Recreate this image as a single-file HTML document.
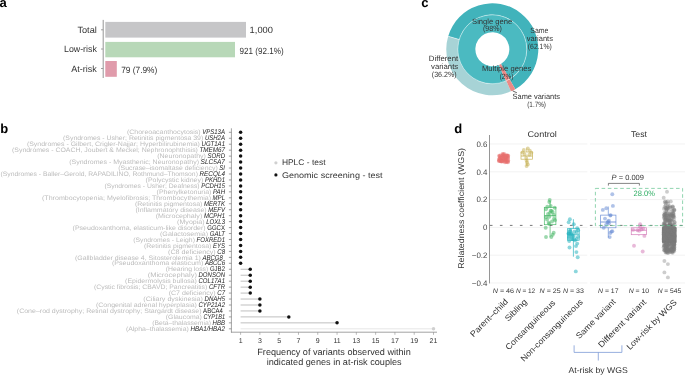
<!DOCTYPE html>
<html><head><meta charset="utf-8"><style>
html,body{margin:0;padding:0;background:#fff;}
body{width:685px;height:375px;overflow:hidden;}
svg{display:block;font-family:"Liberation Sans", sans-serif;will-change:transform;text-rendering:geometricPrecision;}
</style></head><body>
<svg width="685" height="375" viewBox="0 0 685 375">
<text x="-0.50" y="6.80" font-size="13" fill="#000" font-weight="bold">a</text>
<text x="0.30" y="132.60" font-size="13" fill="#000" font-weight="bold">b</text>
<text x="421.20" y="6.60" font-size="13" fill="#000" font-weight="bold">c</text>
<text x="454.20" y="132.70" font-size="13" fill="#000" font-weight="bold">d</text>
<line x1="103.2" y1="19.9" x2="103.2" y2="78" stroke="#8a8a8a" stroke-width="0.9"/>
<rect x="105.3" y="21.9" width="140.70" height="15.70" fill="#c6c6c8"/>
<line x1="101.0" y1="29.80" x2="103.2" y2="29.80" stroke="#8a8a8a" stroke-width="0.8"/>
<text x="96.80" y="32.60" font-size="9.0" fill="#333" text-anchor="end" textLength="19.40" lengthAdjust="spacingAndGlyphs">Total</text>
<text x="249.60" y="33.10" font-size="9.0" fill="#333" textLength="23.40" lengthAdjust="spacingAndGlyphs">1,000</text>
<rect x="105.3" y="41.9" width="129.70" height="15.40" fill="#b8d8b8"/>
<line x1="101.0" y1="49.00" x2="103.2" y2="49.00" stroke="#8a8a8a" stroke-width="0.8"/>
<text x="96.80" y="51.80" font-size="9.0" fill="#333" text-anchor="end" textLength="32.80" lengthAdjust="spacingAndGlyphs">Low-risk</text>
<text x="239.60" y="54.10" font-size="9.0" fill="#333" textLength="44.00" lengthAdjust="spacingAndGlyphs">921 (92.1%)</text>
<rect x="105.3" y="61.0" width="11.50" height="15.80" fill="#e09bab"/>
<line x1="101.0" y1="68.50" x2="103.2" y2="68.50" stroke="#8a8a8a" stroke-width="0.8"/>
<text x="96.80" y="72.00" font-size="9.0" fill="#333" text-anchor="end" textLength="25.50" lengthAdjust="spacingAndGlyphs">At-risk</text>
<text x="121.20" y="73.40" font-size="9.0" fill="#333" textLength="36.10" lengthAdjust="spacingAndGlyphs">79 (7.9%)</text>
<path d="M448.19,36.24 A46.0,46.0 0 1 1 515.30,89.14 L509.55,79.18 A34.5,34.5 0 1 0 459.22,39.50 Z" fill="#41b3bb"/>
<path d="M510.94,91.36 A46.0,46.0 0 0 1 448.19,36.24 L459.22,39.50 A34.5,34.5 0 0 0 506.28,80.84 Z" fill="#a7d3d6"/>
<path d="M515.30,89.14 A46.0,46.0 0 0 1 510.94,91.36 L506.28,80.84 A34.5,34.5 0 0 0 509.55,79.18 Z" fill="#ec8a86"/>
<path d="M505.95,80.99 A34.5,34.5 0 1 1 509.81,79.03 L500.93,63.95 A17.0,17.0 0 1 0 499.02,64.91 Z" fill="#4bbac1"/>
<path d="M509.81,79.03 A34.5,34.5 0 0 1 505.95,80.99 L499.02,64.91 A17.0,17.0 0 0 0 500.93,63.95 Z" fill="#ec8a86"/>
<circle cx="492.3" cy="49.3" r="34.5" fill="none" stroke="#fff" stroke-width="0.45"/>
<line x1="459.22" y1="39.50" x2="448.19" y2="36.24" stroke="#fff" stroke-width="0.5"/>
<text x="492.20" y="23.60" font-size="7.7" fill="#333" text-anchor="middle" textLength="40.30" lengthAdjust="spacingAndGlyphs">Single gene</text>
<text x="492.40" y="30.60" font-size="7.7" fill="#333" text-anchor="middle" textLength="18.80" lengthAdjust="spacingAndGlyphs">(98%)</text>
<text x="539.40" y="32.60" font-size="7.7" fill="#333" text-anchor="middle" textLength="18.10" lengthAdjust="spacingAndGlyphs">Same</text>
<text x="539.80" y="40.80" font-size="7.7" fill="#333" text-anchor="middle" textLength="26.20" lengthAdjust="spacingAndGlyphs">variants</text>
<text x="539.80" y="49.10" font-size="7.7" fill="#333" text-anchor="middle" textLength="24.00" lengthAdjust="spacingAndGlyphs">(62.1%)</text>
<text x="443.50" y="61.40" font-size="7.7" fill="#333" text-anchor="middle" textLength="29.40" lengthAdjust="spacingAndGlyphs">Different</text>
<text x="444.60" y="69.40" font-size="7.7" fill="#333" text-anchor="middle" textLength="27.20" lengthAdjust="spacingAndGlyphs">variants</text>
<text x="444.25" y="77.00" font-size="7.7" fill="#333" text-anchor="middle" textLength="24.90" lengthAdjust="spacingAndGlyphs">(36.2%)</text>
<text x="506.60" y="71.30" font-size="7.7" fill="#333" text-anchor="middle" textLength="49.30" lengthAdjust="spacingAndGlyphs">Multiple genes</text>
<text x="506.50" y="78.50" font-size="7.7" fill="#333" text-anchor="middle" textLength="13.60" lengthAdjust="spacingAndGlyphs">(2%)</text>
<text x="536.30" y="99.30" font-size="7.7" fill="#333" text-anchor="middle" textLength="47.40" lengthAdjust="spacingAndGlyphs">Same variants</text>
<text x="536.60" y="107.00" font-size="7.7" fill="#333" text-anchor="middle" textLength="18.70" lengthAdjust="spacingAndGlyphs">(1.7%)</text>
<line x1="512.7" y1="90.9" x2="516.9" y2="92.8" stroke="#222" stroke-width="0.7"/>
<line x1="231.4" y1="128.3" x2="231.4" y2="332.6" stroke="#8a8a8a" stroke-width="0.8"/>
<line x1="231.0" y1="332.2" x2="437.0" y2="332.2" stroke="#8a8a8a" stroke-width="0.8"/>
<line x1="228.9" y1="132.30" x2="231.4" y2="132.30" stroke="#777" stroke-width="0.7"/>
<text x="225.0" y="134.04" font-size="6.8" text-anchor="end" fill="#222" font-style="italic" textLength="22.80" lengthAdjust="spacingAndGlyphs">VPS13A</text>
<text x="200.60" y="134.04" font-size="6.4" text-anchor="end" fill="#bcbcbc" textLength="73.60" lengthAdjust="spacingAndGlyphs">(Choreoacanthocytosis)</text>
<circle cx="240.60" cy="132.30" r="1.75" fill="#111"/>
<line x1="228.9" y1="138.26" x2="231.4" y2="138.26" stroke="#777" stroke-width="0.7"/>
<text x="225.0" y="140.02" font-size="6.8" text-anchor="end" fill="#222" font-style="italic" textLength="20.11" lengthAdjust="spacingAndGlyphs">USH2A</text>
<text x="203.29" y="140.02" font-size="6.4" text-anchor="end" fill="#bcbcbc" textLength="140.29" lengthAdjust="spacingAndGlyphs">(Syndromes - Usher; Retinitis pigmentosa 39)</text>
<circle cx="240.60" cy="138.26" r="1.75" fill="#111"/>
<line x1="228.9" y1="144.21" x2="231.4" y2="144.21" stroke="#777" stroke-width="0.7"/>
<text x="225.0" y="145.99" font-size="6.8" text-anchor="end" fill="#222" font-style="italic" textLength="23.46" lengthAdjust="spacingAndGlyphs">UGT1A1</text>
<text x="199.94" y="145.99" font-size="6.4" text-anchor="end" fill="#bcbcbc" textLength="173.04" lengthAdjust="spacingAndGlyphs">(Syndromes - Gilbert, Crigler-Najjar; Hyperbilirubinemia)</text>
<circle cx="240.60" cy="144.21" r="1.75" fill="#111"/>
<line x1="228.9" y1="150.17" x2="231.4" y2="150.17" stroke="#777" stroke-width="0.7"/>
<text x="225.0" y="151.97" font-size="6.8" text-anchor="end" fill="#222" font-style="italic" textLength="25.50" lengthAdjust="spacingAndGlyphs">TMEM67</text>
<text x="197.90" y="151.97" font-size="6.4" text-anchor="end" fill="#bcbcbc" textLength="185.90" lengthAdjust="spacingAndGlyphs">(Syndromes - COACH, Joubert &amp; Meckel; Nephronophthisis)</text>
<circle cx="240.60" cy="150.17" r="1.75" fill="#111"/>
<line x1="228.9" y1="156.12" x2="231.4" y2="156.12" stroke="#777" stroke-width="0.7"/>
<text x="225.0" y="157.94" font-size="6.8" text-anchor="end" fill="#222" font-style="italic" textLength="17.43" lengthAdjust="spacingAndGlyphs">SORD</text>
<text x="205.97" y="157.94" font-size="6.4" text-anchor="end" fill="#bcbcbc" textLength="48.77" lengthAdjust="spacingAndGlyphs">(Neuronopathy)</text>
<circle cx="240.60" cy="156.12" r="1.75" fill="#111"/>
<line x1="228.9" y1="162.08" x2="231.4" y2="162.08" stroke="#777" stroke-width="0.7"/>
<text x="225.0" y="163.92" font-size="6.8" text-anchor="end" fill="#222" font-style="italic" textLength="24.40" lengthAdjust="spacingAndGlyphs">SLC5A7</text>
<text x="199.00" y="163.92" font-size="6.4" text-anchor="end" fill="#bcbcbc" textLength="129.80" lengthAdjust="spacingAndGlyphs">(Syndromes - Myasthenic; Neuronopathy)</text>
<circle cx="240.60" cy="162.08" r="1.75" fill="#111"/>
<line x1="228.9" y1="168.03" x2="231.4" y2="168.03" stroke="#777" stroke-width="0.7"/>
<text x="225.0" y="169.89" font-size="6.8" text-anchor="end" fill="#222" font-style="italic" textLength="5.70" lengthAdjust="spacingAndGlyphs">SI</text>
<text x="217.70" y="169.89" font-size="6.4" text-anchor="end" fill="#bcbcbc" textLength="99.40" lengthAdjust="spacingAndGlyphs">(Sucrase–isomaltase deficiency)</text>
<circle cx="240.60" cy="168.03" r="1.75" fill="#111"/>
<line x1="228.9" y1="173.99" x2="231.4" y2="173.99" stroke="#777" stroke-width="0.7"/>
<text x="225.0" y="175.87" font-size="6.8" text-anchor="end" fill="#222" font-style="italic" textLength="25.50" lengthAdjust="spacingAndGlyphs">RECQL4</text>
<text x="197.90" y="175.87" font-size="6.4" text-anchor="end" fill="#bcbcbc" textLength="197.40" lengthAdjust="spacingAndGlyphs">(Syndromes - Baller–Gerold, RAPADILINO, Rothmund–Thomson)</text>
<circle cx="240.60" cy="173.99" r="1.75" fill="#111"/>
<line x1="228.9" y1="179.94" x2="231.4" y2="179.94" stroke="#777" stroke-width="0.7"/>
<text x="225.0" y="181.84" font-size="6.8" text-anchor="end" fill="#222" font-style="italic" textLength="20.11" lengthAdjust="spacingAndGlyphs">PKHD1</text>
<text x="203.29" y="181.84" font-size="6.4" text-anchor="end" fill="#bcbcbc" textLength="57.69" lengthAdjust="spacingAndGlyphs">(Polycystic kidney)</text>
<circle cx="240.60" cy="179.94" r="1.75" fill="#111"/>
<line x1="228.9" y1="185.90" x2="231.4" y2="185.90" stroke="#777" stroke-width="0.7"/>
<text x="225.0" y="187.82" font-size="6.8" text-anchor="end" fill="#222" font-style="italic" textLength="23.80" lengthAdjust="spacingAndGlyphs">PCDH15</text>
<text x="199.60" y="187.82" font-size="6.4" text-anchor="end" fill="#bcbcbc" textLength="95.20" lengthAdjust="spacingAndGlyphs">(Syndromes - Usher; Deafness)</text>
<circle cx="240.60" cy="185.90" r="1.75" fill="#111"/>
<line x1="228.9" y1="191.85" x2="231.4" y2="191.85" stroke="#777" stroke-width="0.7"/>
<text x="225.0" y="193.79" font-size="6.8" text-anchor="end" fill="#222" font-style="italic" textLength="11.96" lengthAdjust="spacingAndGlyphs">PAH</text>
<text x="211.44" y="193.79" font-size="6.4" text-anchor="end" fill="#bcbcbc" textLength="54.84" lengthAdjust="spacingAndGlyphs">(Phenylketonuria)</text>
<circle cx="240.60" cy="191.85" r="1.75" fill="#111"/>
<line x1="228.9" y1="197.81" x2="231.4" y2="197.81" stroke="#777" stroke-width="0.7"/>
<text x="225.0" y="199.77" font-size="6.8" text-anchor="end" fill="#222" font-style="italic" textLength="12.40" lengthAdjust="spacingAndGlyphs">MPL</text>
<text x="211.00" y="199.77" font-size="6.4" text-anchor="end" fill="#bcbcbc" textLength="169.00" lengthAdjust="spacingAndGlyphs">(Thrombocytopenia; Myelofibrosis; Thrombocythemia)</text>
<circle cx="240.60" cy="197.81" r="1.75" fill="#111"/>
<line x1="228.9" y1="203.76" x2="231.4" y2="203.76" stroke="#777" stroke-width="0.7"/>
<text x="225.0" y="205.74" font-size="6.8" text-anchor="end" fill="#222" font-style="italic" textLength="21.00" lengthAdjust="spacingAndGlyphs">MERTK</text>
<text x="202.40" y="205.74" font-size="6.4" text-anchor="end" fill="#bcbcbc" textLength="67.40" lengthAdjust="spacingAndGlyphs">(Retinitis pigmentosa)</text>
<circle cx="240.60" cy="203.76" r="1.75" fill="#111"/>
<line x1="228.9" y1="209.72" x2="231.4" y2="209.72" stroke="#777" stroke-width="0.7"/>
<text x="225.0" y="211.72" font-size="6.8" text-anchor="end" fill="#222" font-style="italic" textLength="16.76" lengthAdjust="spacingAndGlyphs">MEFV</text>
<text x="206.64" y="211.72" font-size="6.4" text-anchor="end" fill="#bcbcbc" textLength="71.24" lengthAdjust="spacingAndGlyphs">(Inflammatory disease)</text>
<circle cx="240.60" cy="209.72" r="1.75" fill="#111"/>
<line x1="228.9" y1="215.67" x2="231.4" y2="215.67" stroke="#777" stroke-width="0.7"/>
<text x="225.0" y="217.69" font-size="6.8" text-anchor="end" fill="#222" font-style="italic" textLength="21.11" lengthAdjust="spacingAndGlyphs">MCPH1</text>
<text x="202.29" y="217.69" font-size="6.4" text-anchor="end" fill="#bcbcbc" textLength="46.59" lengthAdjust="spacingAndGlyphs">(Microcephaly)</text>
<circle cx="240.60" cy="215.67" r="1.75" fill="#111"/>
<line x1="228.9" y1="221.62" x2="231.4" y2="221.62" stroke="#777" stroke-width="0.7"/>
<text x="225.0" y="223.66" font-size="6.8" text-anchor="end" fill="#222" font-style="italic" textLength="18.78" lengthAdjust="spacingAndGlyphs">LOXL3</text>
<text x="204.62" y="223.66" font-size="6.4" text-anchor="end" fill="#bcbcbc" textLength="27.52" lengthAdjust="spacingAndGlyphs">(Myopia)</text>
<circle cx="240.60" cy="221.62" r="1.75" fill="#111"/>
<line x1="228.9" y1="227.58" x2="231.4" y2="227.58" stroke="#777" stroke-width="0.7"/>
<text x="225.0" y="229.64" font-size="6.8" text-anchor="end" fill="#222" textLength="17.76" lengthAdjust="spacingAndGlyphs">GGCX</text>
<text x="205.64" y="229.64" font-size="6.4" text-anchor="end" fill="#bcbcbc" textLength="133.04" lengthAdjust="spacingAndGlyphs">(Pseudoxanthoma, elasticum-like disorder)</text>
<circle cx="240.60" cy="227.58" r="1.75" fill="#111"/>
<line x1="228.9" y1="233.54" x2="231.4" y2="233.54" stroke="#777" stroke-width="0.7"/>
<text x="225.0" y="235.62" font-size="6.8" text-anchor="end" fill="#222" font-style="italic" textLength="15.31" lengthAdjust="spacingAndGlyphs">GALT</text>
<text x="208.09" y="235.62" font-size="6.4" text-anchor="end" fill="#bcbcbc" textLength="48.09" lengthAdjust="spacingAndGlyphs">(Galactosemia)</text>
<circle cx="240.60" cy="233.54" r="1.75" fill="#111"/>
<line x1="228.9" y1="239.49" x2="231.4" y2="239.49" stroke="#777" stroke-width="0.7"/>
<text x="225.0" y="241.59" font-size="6.8" text-anchor="end" fill="#222" font-style="italic" textLength="28.49" lengthAdjust="spacingAndGlyphs">FOXRED1</text>
<text x="194.91" y="241.59" font-size="6.4" text-anchor="end" fill="#bcbcbc" textLength="61.61" lengthAdjust="spacingAndGlyphs">(Syndromes - Leigh)</text>
<circle cx="240.60" cy="239.49" r="1.75" fill="#111"/>
<line x1="228.9" y1="245.44" x2="231.4" y2="245.44" stroke="#777" stroke-width="0.7"/>
<text x="225.0" y="247.56" font-size="6.8" text-anchor="end" fill="#222" font-style="italic" textLength="12.07" lengthAdjust="spacingAndGlyphs">EYS</text>
<text x="211.33" y="247.56" font-size="6.4" text-anchor="end" fill="#bcbcbc" textLength="67.33" lengthAdjust="spacingAndGlyphs">(Retinitis pigmentosa)</text>
<circle cx="240.60" cy="245.44" r="1.75" fill="#111"/>
<line x1="228.9" y1="251.40" x2="231.4" y2="251.40" stroke="#777" stroke-width="0.7"/>
<text x="225.0" y="253.54" font-size="6.8" text-anchor="end" fill="#222" font-style="italic" textLength="7.71" lengthAdjust="spacingAndGlyphs">C8</text>
<text x="215.69" y="253.54" font-size="6.4" text-anchor="end" fill="#bcbcbc" textLength="47.69" lengthAdjust="spacingAndGlyphs">(C8 deficiency)</text>
<circle cx="240.60" cy="251.40" r="1.75" fill="#111"/>
<line x1="228.9" y1="257.36" x2="231.4" y2="257.36" stroke="#777" stroke-width="0.7"/>
<text x="222.9" y="259.51" font-size="6.8" text-anchor="end" fill="#222" font-style="italic" textLength="20.45" lengthAdjust="spacingAndGlyphs">ABCG8</text>
<text x="200.85" y="259.51" font-size="6.4" text-anchor="end" fill="#bcbcbc" textLength="125.95" lengthAdjust="spacingAndGlyphs">(Gallbladder disease 4, Sitosterolemia 1)</text>
<circle cx="240.60" cy="257.36" r="1.75" fill="#111"/>
<line x1="228.9" y1="263.31" x2="231.4" y2="263.31" stroke="#777" stroke-width="0.7"/>
<text x="225.0" y="265.49" font-size="6.8" text-anchor="end" fill="#222" font-style="italic" textLength="20.11" lengthAdjust="spacingAndGlyphs">ABCC6</text>
<text x="203.29" y="265.49" font-size="6.4" text-anchor="end" fill="#bcbcbc" textLength="91.29" lengthAdjust="spacingAndGlyphs">(Pseudoxanthoma elasticum)</text>
<circle cx="240.60" cy="263.31" r="1.75" fill="#111"/>
<line x1="228.9" y1="269.26" x2="231.4" y2="269.26" stroke="#777" stroke-width="0.7"/>
<text x="225.0" y="271.46" font-size="6.8" text-anchor="end" fill="#222" textLength="15.09" lengthAdjust="spacingAndGlyphs">GJB2</text>
<text x="208.31" y="271.46" font-size="6.4" text-anchor="end" fill="#bcbcbc" textLength="42.61" lengthAdjust="spacingAndGlyphs">(Hearing loss)</text>
<line x1="240.6" y1="269.26" x2="250.25" y2="269.26" stroke="#bfbfbf" stroke-width="1.0"/>
<circle cx="250.25" cy="269.26" r="1.75" fill="#111"/>
<line x1="228.9" y1="275.22" x2="231.4" y2="275.22" stroke="#777" stroke-width="0.7"/>
<text x="225.0" y="277.44" font-size="6.8" text-anchor="end" fill="#222" font-style="italic" textLength="26.48" lengthAdjust="spacingAndGlyphs">DONSON</text>
<text x="196.92" y="277.44" font-size="6.4" text-anchor="end" fill="#bcbcbc" textLength="49.22" lengthAdjust="spacingAndGlyphs">(Microcephaly)</text>
<line x1="240.6" y1="275.22" x2="250.25" y2="275.22" stroke="#bfbfbf" stroke-width="1.0"/>
<circle cx="250.25" cy="275.22" r="1.75" fill="#111"/>
<line x1="228.9" y1="281.18" x2="231.4" y2="281.18" stroke="#777" stroke-width="0.7"/>
<text x="225.0" y="283.41" font-size="6.8" text-anchor="end" fill="#222" font-style="italic" textLength="26.49" lengthAdjust="spacingAndGlyphs">COL17A1</text>
<text x="196.91" y="283.41" font-size="6.4" text-anchor="end" fill="#bcbcbc" textLength="71.81" lengthAdjust="spacingAndGlyphs">(Epidermolysis bullosa)</text>
<line x1="240.6" y1="281.18" x2="250.25" y2="281.18" stroke="#bfbfbf" stroke-width="1.0"/>
<circle cx="250.25" cy="281.18" r="1.75" fill="#111"/>
<line x1="228.9" y1="287.13" x2="231.4" y2="287.13" stroke="#777" stroke-width="0.7"/>
<text x="225.0" y="289.39" font-size="6.8" text-anchor="end" fill="#222" font-style="italic" textLength="16.08" lengthAdjust="spacingAndGlyphs">CFTR</text>
<text x="207.32" y="289.39" font-size="6.4" text-anchor="end" fill="#bcbcbc" textLength="113.32" lengthAdjust="spacingAndGlyphs">(Cystic fibrosis; CBAVD; Pancreatitis)</text>
<line x1="240.6" y1="287.13" x2="250.25" y2="287.13" stroke="#bfbfbf" stroke-width="1.0"/>
<circle cx="250.25" cy="287.13" r="1.75" fill="#111"/>
<line x1="228.9" y1="293.09" x2="231.4" y2="293.09" stroke="#777" stroke-width="0.7"/>
<text x="225.0" y="295.37" font-size="6.8" text-anchor="end" fill="#222" font-style="italic" textLength="7.71" lengthAdjust="spacingAndGlyphs">C7</text>
<text x="215.69" y="295.37" font-size="6.4" text-anchor="end" fill="#bcbcbc" textLength="46.99" lengthAdjust="spacingAndGlyphs">(C7 deficiency)</text>
<line x1="240.6" y1="293.09" x2="250.25" y2="293.09" stroke="#bfbfbf" stroke-width="1.0"/>
<circle cx="250.25" cy="293.09" r="1.75" fill="#111"/>
<line x1="228.9" y1="299.04" x2="231.4" y2="299.04" stroke="#777" stroke-width="0.7"/>
<text x="225.0" y="301.34" font-size="6.8" text-anchor="end" fill="#222" font-style="italic" textLength="20.45" lengthAdjust="spacingAndGlyphs">DNAH5</text>
<text x="202.95" y="301.34" font-size="6.4" text-anchor="end" fill="#bcbcbc" textLength="59.65" lengthAdjust="spacingAndGlyphs">(Ciliary dyskinesia)</text>
<line x1="240.6" y1="299.04" x2="259.89" y2="299.04" stroke="#bfbfbf" stroke-width="1.0"/>
<circle cx="259.89" cy="299.04" r="1.75" fill="#111"/>
<line x1="228.9" y1="305.00" x2="231.4" y2="305.00" stroke="#777" stroke-width="0.7"/>
<text x="225.0" y="307.31" font-size="6.8" text-anchor="end" fill="#222" font-style="italic" textLength="26.49" lengthAdjust="spacingAndGlyphs">CYP21A2</text>
<text x="196.91" y="307.31" font-size="6.4" text-anchor="end" fill="#bcbcbc" textLength="100.91" lengthAdjust="spacingAndGlyphs">(Congenital adrenal hyperplasia)</text>
<line x1="240.6" y1="305.00" x2="259.89" y2="305.00" stroke="#bfbfbf" stroke-width="1.0"/>
<circle cx="259.89" cy="305.00" r="1.75" fill="#111"/>
<line x1="228.9" y1="310.95" x2="231.4" y2="310.95" stroke="#777" stroke-width="0.7"/>
<text x="222.9" y="313.29" font-size="6.8" text-anchor="end" fill="#222" textLength="19.78" lengthAdjust="spacingAndGlyphs">ABCA4</text>
<text x="201.52" y="313.29" font-size="6.4" text-anchor="end" fill="#bcbcbc" textLength="184.72" lengthAdjust="spacingAndGlyphs">(Cone–rod dystrophy; Retinal dystrophy; Stargardt disease)</text>
<line x1="240.6" y1="310.95" x2="259.89" y2="310.95" stroke="#bfbfbf" stroke-width="1.0"/>
<circle cx="259.89" cy="310.95" r="1.75" fill="#111"/>
<line x1="228.9" y1="316.90" x2="231.4" y2="316.90" stroke="#777" stroke-width="0.7"/>
<text x="225.0" y="319.26" font-size="6.8" text-anchor="end" fill="#222" font-style="italic" textLength="21.50" lengthAdjust="spacingAndGlyphs">CYP1B1</text>
<text x="201.90" y="319.26" font-size="6.4" text-anchor="end" fill="#bcbcbc" textLength="36.10" lengthAdjust="spacingAndGlyphs">(Glaucoma)</text>
<line x1="240.6" y1="316.90" x2="288.82" y2="316.90" stroke="#bfbfbf" stroke-width="1.0"/>
<circle cx="288.82" cy="316.90" r="1.75" fill="#111"/>
<line x1="228.9" y1="322.86" x2="231.4" y2="322.86" stroke="#777" stroke-width="0.7"/>
<text x="225.0" y="325.24" font-size="6.8" text-anchor="end" fill="#222" font-style="italic" textLength="12.40" lengthAdjust="spacingAndGlyphs">HBB</text>
<text x="211.00" y="325.24" font-size="6.4" text-anchor="end" fill="#bcbcbc" textLength="58.70" lengthAdjust="spacingAndGlyphs">(Beta–thalassemia)</text>
<line x1="240.6" y1="322.86" x2="337.05" y2="322.86" stroke="#bfbfbf" stroke-width="1.0"/>
<circle cx="337.05" cy="322.86" r="1.75" fill="#111"/>
<line x1="228.9" y1="328.82" x2="231.4" y2="328.82" stroke="#777" stroke-width="0.7"/>
<text x="225.0" y="331.22" font-size="6.8" text-anchor="end" fill="#222" font-style="italic" textLength="34.60" lengthAdjust="spacingAndGlyphs">HBA1/HBA2</text>
<text x="188.80" y="331.22" font-size="6.4" text-anchor="end" fill="#bcbcbc" textLength="62.90" lengthAdjust="spacingAndGlyphs">(Alpha–thalassemia)</text>
<line x1="240.6" y1="328.82" x2="433.50" y2="328.82" stroke="#e6e6e6" stroke-width="1.0"/>
<circle cx="433.50" cy="328.82" r="1.75" fill="#d0d0d0"/>
<line x1="240.60" y1="332.2" x2="240.60" y2="334.8" stroke="#8a8a8a" stroke-width="0.6"/>
<text x="240.60" y="342.60" font-size="7.0" fill="#333" text-anchor="middle">1</text>
<line x1="259.89" y1="332.2" x2="259.89" y2="334.8" stroke="#8a8a8a" stroke-width="0.6"/>
<text x="259.89" y="342.60" font-size="7.0" fill="#333" text-anchor="middle">3</text>
<line x1="279.18" y1="332.2" x2="279.18" y2="334.8" stroke="#8a8a8a" stroke-width="0.6"/>
<text x="279.18" y="342.60" font-size="7.0" fill="#333" text-anchor="middle">5</text>
<line x1="298.47" y1="332.2" x2="298.47" y2="334.8" stroke="#8a8a8a" stroke-width="0.6"/>
<text x="298.47" y="342.60" font-size="7.0" fill="#333" text-anchor="middle">7</text>
<line x1="317.76" y1="332.2" x2="317.76" y2="334.8" stroke="#8a8a8a" stroke-width="0.6"/>
<text x="317.76" y="342.60" font-size="7.0" fill="#333" text-anchor="middle">9</text>
<line x1="337.05" y1="332.2" x2="337.05" y2="334.8" stroke="#8a8a8a" stroke-width="0.6"/>
<text x="337.05" y="342.60" font-size="7.0" fill="#333" text-anchor="middle">11</text>
<line x1="356.34" y1="332.2" x2="356.34" y2="334.8" stroke="#8a8a8a" stroke-width="0.6"/>
<text x="356.34" y="342.60" font-size="7.0" fill="#333" text-anchor="middle">13</text>
<line x1="375.63" y1="332.2" x2="375.63" y2="334.8" stroke="#8a8a8a" stroke-width="0.6"/>
<text x="375.63" y="342.60" font-size="7.0" fill="#333" text-anchor="middle">15</text>
<line x1="394.92" y1="332.2" x2="394.92" y2="334.8" stroke="#8a8a8a" stroke-width="0.6"/>
<text x="394.92" y="342.60" font-size="7.0" fill="#333" text-anchor="middle">17</text>
<line x1="414.21" y1="332.2" x2="414.21" y2="334.8" stroke="#8a8a8a" stroke-width="0.6"/>
<text x="414.21" y="342.60" font-size="7.0" fill="#333" text-anchor="middle">19</text>
<line x1="433.50" y1="332.2" x2="433.50" y2="334.8" stroke="#8a8a8a" stroke-width="0.6"/>
<text x="433.50" y="342.60" font-size="7.0" fill="#333" text-anchor="middle">21</text>
<text x="334.00" y="354.70" font-size="9.1" fill="#333" text-anchor="middle" textLength="153.40" lengthAdjust="spacingAndGlyphs">Frequency of variants observed within</text>
<text x="334.20" y="365.10" font-size="9.1" fill="#333" text-anchor="middle" textLength="135.00" lengthAdjust="spacingAndGlyphs">indicated genes in at-risk couples</text>
<circle cx="275.9" cy="162.8" r="1.6" fill="#d0d0d0"/>
<circle cx="275.9" cy="174.9" r="1.6" fill="#111"/>
<text x="281.90" y="165.30" font-size="8.2" fill="#333" textLength="43.60" lengthAdjust="spacingAndGlyphs">HPLC - test</text>
<text x="281.90" y="177.70" font-size="8.2" fill="#333" textLength="100.70" lengthAdjust="spacingAndGlyphs">Genomic screening - test</text>
<line x1="489.5" y1="144.00" x2="587.3" y2="144.00" stroke="#ececec" stroke-width="0.7"/>
<line x1="590.0" y1="144.00" x2="688" y2="144.00" stroke="#ececec" stroke-width="0.7"/>
<text x="487.40" y="146.75" font-size="7.9" fill="#444" text-anchor="end">0.6</text>
<line x1="489.5" y1="171.80" x2="587.3" y2="171.80" stroke="#ececec" stroke-width="0.7"/>
<line x1="590.0" y1="171.80" x2="688" y2="171.80" stroke="#ececec" stroke-width="0.7"/>
<text x="487.40" y="174.55" font-size="7.9" fill="#444" text-anchor="end">0.4</text>
<line x1="489.5" y1="199.60" x2="587.3" y2="199.60" stroke="#ececec" stroke-width="0.7"/>
<line x1="590.0" y1="199.60" x2="688" y2="199.60" stroke="#ececec" stroke-width="0.7"/>
<text x="487.40" y="202.35" font-size="7.9" fill="#444" text-anchor="end">0.2</text>
<line x1="489.5" y1="227.40" x2="587.3" y2="227.40" stroke="#ececec" stroke-width="0.7"/>
<line x1="590.0" y1="227.40" x2="688" y2="227.40" stroke="#ececec" stroke-width="0.7"/>
<text x="487.40" y="230.15" font-size="7.9" fill="#444" text-anchor="end">0</text>
<line x1="489.5" y1="255.20" x2="587.3" y2="255.20" stroke="#ececec" stroke-width="0.7"/>
<line x1="590.0" y1="255.20" x2="688" y2="255.20" stroke="#ececec" stroke-width="0.7"/>
<text x="487.40" y="257.95" font-size="7.9" fill="#444" text-anchor="end">−0.2</text>
<line x1="489.5" y1="283.00" x2="587.3" y2="283.00" stroke="#ececec" stroke-width="0.7"/>
<line x1="590.0" y1="283.00" x2="688" y2="283.00" stroke="#ececec" stroke-width="0.7"/>
<text x="487.40" y="285.75" font-size="7.9" fill="#444" text-anchor="end">−0.4</text>
<line x1="489.5" y1="135" x2="489.5" y2="283.4" stroke="#8a8a8a" stroke-width="0.9"/>
<text x="464.50" y="208.40" font-size="8.4" fill="#333" text-anchor="middle" textLength="120.80" lengthAdjust="spacingAndGlyphs" transform="rotate(-90 464.5 208.4)">Relatedness coefficient (WGS)</text>
<text x="542.20" y="137.10" font-size="8.4" fill="#333" text-anchor="middle" textLength="29.30" lengthAdjust="spacingAndGlyphs">Control</text>
<text x="639.00" y="137.00" font-size="8.4" fill="#333" text-anchor="middle" textLength="16.00" lengthAdjust="spacingAndGlyphs">Test</text>
<g fill="#e8706e" fill-opacity="0.55">
<circle cx="499.2" cy="155.6" r="1.95"/>
<circle cx="499.6" cy="156.8" r="1.95"/>
<circle cx="499.4" cy="158.4" r="1.95"/>
<circle cx="499.0" cy="159.8" r="1.95"/>
<circle cx="498.9" cy="161.0" r="1.95"/>
<circle cx="500.4" cy="155.5" r="1.95"/>
<circle cx="500.7" cy="157.5" r="1.95"/>
<circle cx="500.4" cy="158.2" r="1.95"/>
<circle cx="500.9" cy="160.2" r="1.95"/>
<circle cx="500.9" cy="161.0" r="1.95"/>
<circle cx="502.7" cy="155.4" r="1.95"/>
<circle cx="502.6" cy="157.0" r="1.95"/>
<circle cx="501.8" cy="158.1" r="1.95"/>
<circle cx="502.0" cy="160.1" r="1.95"/>
<circle cx="501.9" cy="161.2" r="1.95"/>
<circle cx="503.7" cy="155.8" r="1.95"/>
<circle cx="503.6" cy="156.8" r="1.95"/>
<circle cx="503.2" cy="158.2" r="1.95"/>
<circle cx="503.8" cy="159.7" r="1.95"/>
<circle cx="503.4" cy="161.2" r="1.95"/>
<circle cx="505.0" cy="155.7" r="1.95"/>
<circle cx="505.3" cy="157.4" r="1.95"/>
<circle cx="504.7" cy="158.6" r="1.95"/>
<circle cx="505.0" cy="160.2" r="1.95"/>
<circle cx="505.2" cy="160.9" r="1.95"/>
<circle cx="506.9" cy="155.5" r="1.95"/>
<circle cx="506.3" cy="157.5" r="1.95"/>
<circle cx="506.1" cy="158.5" r="1.95"/>
<circle cx="505.9" cy="160.0" r="1.95"/>
<circle cx="506.7" cy="161.2" r="1.95"/>
<circle cx="508.2" cy="155.7" r="1.95"/>
<circle cx="508.0" cy="157.3" r="1.95"/>
<circle cx="507.9" cy="158.5" r="1.95"/>
<circle cx="508.1" cy="160.2" r="1.95"/>
<circle cx="507.8" cy="161.3" r="1.95"/>
<circle cx="502.6" cy="154.0" r="1.95"/>
<circle cx="504.2" cy="153.9" r="1.95"/>
<circle cx="503.3" cy="154.6" r="1.95"/>
<circle cx="507.9" cy="162.2" r="1.95"/>
<circle cx="506.5" cy="162.0" r="1.95"/>
<circle cx="505.0" cy="162.2" r="1.95"/>
<circle cx="499.4" cy="160.6" r="1.95"/>
<circle cx="500.5" cy="161.3" r="1.95"/>
<circle cx="501.8" cy="161.6" r="1.95"/>
<circle cx="507.5" cy="155.8" r="1.95"/>
<circle cx="506.4" cy="155.4" r="1.95"/>
</g>
<line x1="526.8" y1="148.4" x2="526.8" y2="152.0" stroke="#c8b55c" stroke-width="0.7"/>
<line x1="526.8" y1="159.2" x2="526.8" y2="166.0" stroke="#c8b55c" stroke-width="0.7"/>
<rect x="521.00" y="152.0" width="11.60" height="7.20" fill="#fff" fill-opacity="0.6" stroke="#c8b55c" stroke-width="0.7"/>
<line x1="521.00" y1="156.0" x2="532.60" y2="156.0" stroke="#c8b55c" stroke-width="0.9"/>
<g fill="#c8b55c" fill-opacity="0.55">
<circle cx="527.8" cy="148.4" r="1.95"/>
<circle cx="523.8" cy="150.0" r="1.95"/>
<circle cx="529.8" cy="150.8" r="1.95"/>
<circle cx="522.6" cy="152.4" r="1.95"/>
<circle cx="531.4" cy="152.8" r="1.95"/>
<circle cx="524.6" cy="154.4" r="1.95"/>
<circle cx="529.4" cy="154.8" r="1.95"/>
<circle cx="526.2" cy="158.0" r="1.95"/>
<circle cx="526.6" cy="160.4" r="1.95"/>
<circle cx="527.0" cy="162.4" r="1.95"/>
<circle cx="526.6" cy="166.0" r="1.95"/>
<circle cx="527.8" cy="164.4" r="1.95"/>
</g>
<line x1="550.1" y1="200.7" x2="550.1" y2="207.3" stroke="#4bb86a" stroke-width="0.7"/>
<line x1="550.1" y1="224.7" x2="550.1" y2="237.3" stroke="#4bb86a" stroke-width="0.7"/>
<rect x="544.30" y="207.3" width="11.60" height="17.40" fill="#fff" fill-opacity="0.6" stroke="#4bb86a" stroke-width="0.7"/>
<line x1="544.30" y1="215.7" x2="555.90" y2="215.7" stroke="#4bb86a" stroke-width="0.9"/>
<g fill="#4bb86a" fill-opacity="0.55">
<circle cx="549.7" cy="200.0" r="1.95"/>
<circle cx="549.3" cy="202.0" r="1.95"/>
<circle cx="547.3" cy="206.7" r="1.95"/>
<circle cx="550.7" cy="206.0" r="1.95"/>
<circle cx="554.7" cy="207.7" r="1.95"/>
<circle cx="546.0" cy="209.3" r="1.95"/>
<circle cx="550.7" cy="210.7" r="1.95"/>
<circle cx="552.7" cy="212.0" r="1.95"/>
<circle cx="548.0" cy="214.0" r="1.95"/>
<circle cx="553.7" cy="214.7" r="1.95"/>
<circle cx="549.3" cy="216.7" r="1.95"/>
<circle cx="546.0" cy="217.3" r="1.95"/>
<circle cx="554.0" cy="218.7" r="1.95"/>
<circle cx="555.0" cy="220.3" r="1.95"/>
<circle cx="548.7" cy="222.7" r="1.95"/>
<circle cx="549.3" cy="224.0" r="1.95"/>
<circle cx="545.7" cy="227.7" r="1.95"/>
<circle cx="553.7" cy="232.7" r="1.95"/>
<circle cx="552.7" cy="234.7" r="1.95"/>
<circle cx="546.0" cy="237.0" r="1.95"/>
<circle cx="551.3" cy="237.0" r="1.95"/>
<circle cx="551.5" cy="211.0" r="1.95"/>
<circle cx="547.0" cy="219.5" r="1.95"/>
<circle cx="552.0" cy="221.5" r="1.95"/>
<circle cx="550.0" cy="213.0" r="1.95"/>
</g>
<line x1="573.4" y1="219.2" x2="573.4" y2="228.7" stroke="#2bb5c0" stroke-width="0.7"/>
<line x1="573.4" y1="240.2" x2="573.4" y2="256.7" stroke="#2bb5c0" stroke-width="0.7"/>
<rect x="567.60" y="228.7" width="11.60" height="11.50" fill="#fff" fill-opacity="0.6" stroke="#2bb5c0" stroke-width="0.7"/>
<line x1="567.60" y1="234.2" x2="579.20" y2="234.2" stroke="#2bb5c0" stroke-width="0.9"/>
<g fill="#2bb5c0" fill-opacity="0.55">
<circle cx="569.9" cy="219.2" r="1.95"/>
<circle cx="568.7" cy="222.2" r="1.95"/>
<circle cx="573.8" cy="224.3" r="1.95"/>
<circle cx="577.2" cy="228.2" r="1.95"/>
<circle cx="569.5" cy="247.5" r="1.95"/>
<circle cx="577.2" cy="243.6" r="1.95"/>
<circle cx="576.0" cy="246.1" r="1.95"/>
<circle cx="576.4" cy="252.1" r="1.95"/>
<circle cx="577.7" cy="257.2" r="1.95"/>
<circle cx="575.8" cy="271.4" r="1.95"/>
<circle cx="569.2" cy="241.0" r="1.95"/>
<circle cx="569.1" cy="236.9" r="1.95"/>
<circle cx="575.0" cy="240.4" r="1.95"/>
<circle cx="576.7" cy="231.9" r="1.95"/>
<circle cx="572.4" cy="236.5" r="1.95"/>
<circle cx="568.7" cy="234.0" r="1.95"/>
<circle cx="570.2" cy="229.9" r="1.95"/>
<circle cx="569.1" cy="237.7" r="1.95"/>
<circle cx="569.8" cy="231.5" r="1.95"/>
<circle cx="572.4" cy="239.0" r="1.95"/>
<circle cx="569.3" cy="233.9" r="1.95"/>
<circle cx="574.0" cy="239.1" r="1.95"/>
<circle cx="576.7" cy="238.9" r="1.95"/>
<circle cx="571.3" cy="233.5" r="1.95"/>
<circle cx="572.1" cy="239.1" r="1.95"/>
<circle cx="578.1" cy="230.3" r="1.95"/>
<circle cx="570.3" cy="231.3" r="1.95"/>
<circle cx="570.8" cy="234.3" r="1.95"/>
<circle cx="574.4" cy="231.7" r="1.95"/>
<circle cx="568.5" cy="233.5" r="1.95"/>
<circle cx="572.2" cy="235.3" r="1.95"/>
<circle cx="578.0" cy="236.8" r="1.95"/>
<circle cx="573.7" cy="235.9" r="1.95"/>
</g>
<line x1="608.3" y1="206.5" x2="608.3" y2="215.1" stroke="#6d8fd6" stroke-width="0.7"/>
<line x1="608.3" y1="227.8" x2="608.3" y2="237.7" stroke="#6d8fd6" stroke-width="0.7"/>
<rect x="600.65" y="215.1" width="15.30" height="12.70" fill="#fff" fill-opacity="0.6" stroke="#6d8fd6" stroke-width="0.7"/>
<line x1="600.65" y1="222.0" x2="615.95" y2="222.0" stroke="#6d8fd6" stroke-width="0.9"/>
<g fill="#6d8fd6" fill-opacity="0.55">
<circle cx="612.3" cy="194.3" r="1.95"/>
<circle cx="602.8" cy="209.9" r="1.95"/>
<circle cx="606.3" cy="208.2" r="1.95"/>
<circle cx="612.9" cy="205.9" r="1.95"/>
<circle cx="610.3" cy="215.6" r="1.95"/>
<circle cx="605.0" cy="218.6" r="1.95"/>
<circle cx="608.9" cy="220.8" r="1.95"/>
<circle cx="607.5" cy="222.6" r="1.95"/>
<circle cx="608.9" cy="223.3" r="1.95"/>
<circle cx="603.7" cy="227.8" r="1.95"/>
<circle cx="611.5" cy="231.6" r="1.95"/>
<circle cx="610.3" cy="233.0" r="1.95"/>
<circle cx="609.7" cy="237.1" r="1.95"/>
<circle cx="612.3" cy="231.2" r="1.95"/>
<circle cx="608.0" cy="221.5" r="1.95"/>
<circle cx="610.6" cy="215.1" r="1.95"/>
<circle cx="606.0" cy="225.0" r="1.95"/>
</g>
<line x1="638.9" y1="224.3" x2="638.9" y2="227.8" stroke="#d57fba" stroke-width="0.7"/>
<line x1="638.9" y1="234.7" x2="638.9" y2="235.9" stroke="#d57fba" stroke-width="0.7"/>
<rect x="631.25" y="227.8" width="15.30" height="6.90" fill="#fff" fill-opacity="0.6" stroke="#d57fba" stroke-width="0.7"/>
<line x1="631.25" y1="230.2" x2="646.55" y2="230.2" stroke="#d57fba" stroke-width="0.9"/>
<g fill="#d57fba" fill-opacity="0.55">
<circle cx="640.1" cy="224.3" r="1.95"/>
<circle cx="641.4" cy="229.5" r="1.95"/>
<circle cx="643.2" cy="228.5" r="1.95"/>
<circle cx="639.2" cy="230.7" r="1.95"/>
<circle cx="633.1" cy="229.9" r="1.95"/>
<circle cx="644.4" cy="235.9" r="1.95"/>
<circle cx="634.0" cy="245.8" r="1.95"/>
<circle cx="642.7" cy="251.5" r="1.95"/>
<circle cx="640.4" cy="227.3" r="1.95"/>
<circle cx="637.5" cy="230.2" r="1.95"/>
</g>
<rect x="661.9" y="226.4" width="14.7" height="16.8" rx="1.5" fill="#7d7d7d"/>
<g fill="#7c7c7c" fill-opacity="0.38">
<circle cx="667.0" cy="191.7" r="1.95"/>
<circle cx="663.7" cy="197.7" r="1.95"/>
<circle cx="664.4" cy="261.0" r="1.95"/>
<circle cx="667.9" cy="264.1" r="1.95"/>
<circle cx="664.4" cy="272.4" r="1.95"/>
<circle cx="667.9" cy="277.4" r="1.95"/>
<circle cx="670.8" cy="201.4" r="1.95"/>
<circle cx="672.8" cy="206.5" r="1.95"/>
<circle cx="672.6" cy="206.6" r="1.95"/>
<circle cx="668.2" cy="203.8" r="1.95"/>
<circle cx="665.6" cy="205.4" r="1.95"/>
<circle cx="665.3" cy="201.5" r="1.95"/>
<circle cx="666.6" cy="202.1" r="1.95"/>
<circle cx="667.8" cy="201.4" r="1.95"/>
<circle cx="664.7" cy="202.1" r="1.95"/>
<circle cx="665.6" cy="203.5" r="1.95"/>
<circle cx="664.0" cy="214.7" r="1.95"/>
<circle cx="670.5" cy="207.5" r="1.95"/>
<circle cx="666.5" cy="209.5" r="1.95"/>
<circle cx="667.7" cy="207.2" r="1.95"/>
<circle cx="673.0" cy="215.9" r="1.95"/>
<circle cx="668.8" cy="210.8" r="1.95"/>
<circle cx="664.6" cy="207.0" r="1.95"/>
<circle cx="667.5" cy="208.6" r="1.95"/>
<circle cx="672.8" cy="207.6" r="1.95"/>
<circle cx="664.0" cy="215.5" r="1.95"/>
<circle cx="669.5" cy="207.5" r="1.95"/>
<circle cx="669.7" cy="206.3" r="1.95"/>
<circle cx="669.5" cy="215.8" r="1.95"/>
<circle cx="673.2" cy="213.0" r="1.95"/>
<circle cx="666.6" cy="209.7" r="1.95"/>
<circle cx="665.5" cy="213.7" r="1.95"/>
<circle cx="669.6" cy="213.8" r="1.95"/>
<circle cx="667.3" cy="208.2" r="1.95"/>
<circle cx="672.6" cy="215.8" r="1.95"/>
<circle cx="673.1" cy="214.1" r="1.95"/>
<circle cx="672.7" cy="213.4" r="1.95"/>
<circle cx="666.2" cy="211.2" r="1.95"/>
<circle cx="667.6" cy="206.3" r="1.95"/>
<circle cx="664.0" cy="208.8" r="1.95"/>
<circle cx="666.6" cy="212.9" r="1.95"/>
<circle cx="674.2" cy="210.5" r="1.95"/>
<circle cx="674.0" cy="215.9" r="1.95"/>
<circle cx="674.2" cy="209.6" r="1.95"/>
<circle cx="666.1" cy="208.3" r="1.95"/>
<circle cx="665.9" cy="208.0" r="1.95"/>
<circle cx="670.6" cy="215.0" r="1.95"/>
<circle cx="672.9" cy="210.8" r="1.95"/>
<circle cx="670.9" cy="214.0" r="1.95"/>
<circle cx="664.6" cy="212.6" r="1.95"/>
<circle cx="673.7" cy="213.8" r="1.95"/>
<circle cx="672.0" cy="210.8" r="1.95"/>
<circle cx="665.7" cy="213.9" r="1.95"/>
<circle cx="667.4" cy="214.0" r="1.95"/>
<circle cx="674.4" cy="210.0" r="1.95"/>
<circle cx="668.1" cy="215.5" r="1.95"/>
<circle cx="671.7" cy="216.1" r="1.95"/>
<circle cx="665.0" cy="215.9" r="1.95"/>
<circle cx="673.7" cy="224.1" r="1.95"/>
<circle cx="665.2" cy="224.3" r="1.95"/>
<circle cx="674.6" cy="222.2" r="1.95"/>
<circle cx="667.5" cy="220.9" r="1.95"/>
<circle cx="665.1" cy="214.2" r="1.95"/>
<circle cx="674.5" cy="222.1" r="1.95"/>
<circle cx="669.5" cy="225.7" r="1.95"/>
<circle cx="668.5" cy="224.9" r="1.95"/>
<circle cx="672.9" cy="216.6" r="1.95"/>
<circle cx="666.4" cy="217.7" r="1.95"/>
<circle cx="666.3" cy="221.3" r="1.95"/>
<circle cx="666.5" cy="219.2" r="1.95"/>
<circle cx="665.1" cy="225.4" r="1.95"/>
<circle cx="667.6" cy="219.7" r="1.95"/>
<circle cx="670.1" cy="225.3" r="1.95"/>
<circle cx="668.3" cy="225.5" r="1.95"/>
<circle cx="669.2" cy="220.6" r="1.95"/>
<circle cx="669.5" cy="214.2" r="1.95"/>
<circle cx="668.5" cy="216.3" r="1.95"/>
<circle cx="663.6" cy="224.0" r="1.95"/>
<circle cx="665.5" cy="219.9" r="1.95"/>
<circle cx="671.7" cy="221.0" r="1.95"/>
<circle cx="667.3" cy="220.5" r="1.95"/>
<circle cx="669.8" cy="223.8" r="1.95"/>
<circle cx="664.8" cy="221.0" r="1.95"/>
<circle cx="666.4" cy="217.5" r="1.95"/>
<circle cx="672.2" cy="220.3" r="1.95"/>
<circle cx="669.9" cy="223.5" r="1.95"/>
<circle cx="673.8" cy="219.5" r="1.95"/>
<circle cx="670.5" cy="220.3" r="1.95"/>
<circle cx="669.3" cy="222.7" r="1.95"/>
<circle cx="668.7" cy="220.7" r="1.95"/>
<circle cx="669.0" cy="225.8" r="1.95"/>
<circle cx="671.4" cy="225.0" r="1.95"/>
<circle cx="674.2" cy="217.2" r="1.95"/>
<circle cx="669.9" cy="225.8" r="1.95"/>
<circle cx="673.0" cy="215.7" r="1.95"/>
<circle cx="665.0" cy="219.5" r="1.95"/>
<circle cx="664.4" cy="217.0" r="1.95"/>
<circle cx="664.4" cy="222.4" r="1.95"/>
<circle cx="672.4" cy="225.2" r="1.95"/>
<circle cx="665.3" cy="223.0" r="1.95"/>
<circle cx="671.0" cy="215.8" r="1.95"/>
<circle cx="673.5" cy="226.1" r="1.95"/>
<circle cx="666.1" cy="225.9" r="1.95"/>
<circle cx="668.1" cy="220.1" r="1.95"/>
<circle cx="674.7" cy="224.4" r="1.95"/>
<circle cx="665.4" cy="219.4" r="1.95"/>
<circle cx="669.4" cy="218.2" r="1.95"/>
<circle cx="665.8" cy="218.0" r="1.95"/>
<circle cx="671.7" cy="214.2" r="1.95"/>
<circle cx="669.8" cy="219.5" r="1.95"/>
<circle cx="663.8" cy="218.1" r="1.95"/>
<circle cx="670.6" cy="220.4" r="1.95"/>
<circle cx="664.3" cy="226.3" r="1.95"/>
<circle cx="672.4" cy="226.1" r="1.95"/>
<circle cx="664.8" cy="217.3" r="1.95"/>
<circle cx="664.0" cy="223.7" r="1.95"/>
<circle cx="666.6" cy="215.6" r="1.95"/>
<circle cx="668.3" cy="225.4" r="1.95"/>
<circle cx="672.8" cy="217.2" r="1.95"/>
<circle cx="665.3" cy="225.5" r="1.95"/>
<circle cx="670.0" cy="222.8" r="1.95"/>
<circle cx="664.6" cy="214.7" r="1.95"/>
<circle cx="671.3" cy="219.3" r="1.95"/>
<circle cx="664.4" cy="225.7" r="1.95"/>
<circle cx="670.7" cy="224.0" r="1.95"/>
<circle cx="664.5" cy="224.7" r="1.95"/>
<circle cx="664.3" cy="224.8" r="1.95"/>
<circle cx="668.7" cy="218.2" r="1.95"/>
<circle cx="669.8" cy="225.6" r="1.95"/>
<circle cx="666.6" cy="215.6" r="1.95"/>
<circle cx="669.5" cy="217.0" r="1.95"/>
<circle cx="664.8" cy="229.2" r="1.95"/>
<circle cx="664.2" cy="229.8" r="1.95"/>
<circle cx="667.1" cy="231.5" r="1.95"/>
<circle cx="672.1" cy="231.3" r="1.95"/>
<circle cx="669.2" cy="229.4" r="1.95"/>
<circle cx="667.5" cy="226.8" r="1.95"/>
<circle cx="666.4" cy="226.8" r="1.95"/>
<circle cx="671.8" cy="235.6" r="1.95"/>
<circle cx="665.7" cy="234.3" r="1.95"/>
<circle cx="674.1" cy="228.3" r="1.95"/>
<circle cx="672.8" cy="233.6" r="1.95"/>
<circle cx="669.1" cy="240.3" r="1.95"/>
<circle cx="668.0" cy="234.9" r="1.95"/>
<circle cx="671.3" cy="242.7" r="1.95"/>
<circle cx="667.4" cy="240.2" r="1.95"/>
<circle cx="671.5" cy="237.0" r="1.95"/>
<circle cx="668.1" cy="232.2" r="1.95"/>
<circle cx="664.2" cy="228.6" r="1.95"/>
<circle cx="664.4" cy="238.7" r="1.95"/>
<circle cx="666.5" cy="229.2" r="1.95"/>
<circle cx="664.5" cy="240.4" r="1.95"/>
<circle cx="673.4" cy="237.6" r="1.95"/>
<circle cx="666.8" cy="230.5" r="1.95"/>
<circle cx="666.9" cy="234.1" r="1.95"/>
<circle cx="665.4" cy="233.9" r="1.95"/>
<circle cx="666.5" cy="242.4" r="1.95"/>
<circle cx="674.5" cy="235.5" r="1.95"/>
<circle cx="666.3" cy="242.4" r="1.95"/>
<circle cx="667.1" cy="232.4" r="1.95"/>
<circle cx="663.6" cy="232.8" r="1.95"/>
<circle cx="668.9" cy="234.8" r="1.95"/>
<circle cx="665.9" cy="234.8" r="1.95"/>
<circle cx="663.7" cy="230.9" r="1.95"/>
<circle cx="664.6" cy="233.1" r="1.95"/>
<circle cx="664.1" cy="226.9" r="1.95"/>
<circle cx="667.0" cy="230.3" r="1.95"/>
<circle cx="670.2" cy="235.2" r="1.95"/>
<circle cx="672.0" cy="237.3" r="1.95"/>
<circle cx="671.6" cy="241.0" r="1.95"/>
<circle cx="668.0" cy="231.9" r="1.95"/>
<circle cx="674.6" cy="229.0" r="1.95"/>
<circle cx="671.7" cy="237.1" r="1.95"/>
<circle cx="664.1" cy="240.3" r="1.95"/>
<circle cx="673.6" cy="236.9" r="1.95"/>
<circle cx="671.8" cy="239.9" r="1.95"/>
<circle cx="665.2" cy="235.1" r="1.95"/>
<circle cx="669.2" cy="240.3" r="1.95"/>
<circle cx="672.6" cy="240.1" r="1.95"/>
<circle cx="670.1" cy="241.2" r="1.95"/>
<circle cx="671.2" cy="237.9" r="1.95"/>
<circle cx="666.2" cy="227.0" r="1.95"/>
<circle cx="665.1" cy="232.5" r="1.95"/>
<circle cx="664.8" cy="240.3" r="1.95"/>
<circle cx="669.9" cy="236.9" r="1.95"/>
<circle cx="670.6" cy="237.7" r="1.95"/>
<circle cx="669.1" cy="226.6" r="1.95"/>
<circle cx="672.5" cy="238.8" r="1.95"/>
<circle cx="669.2" cy="235.3" r="1.95"/>
<circle cx="671.0" cy="227.6" r="1.95"/>
<circle cx="671.9" cy="230.7" r="1.95"/>
<circle cx="664.4" cy="230.9" r="1.95"/>
<circle cx="671.8" cy="229.9" r="1.95"/>
<circle cx="671.9" cy="242.6" r="1.95"/>
<circle cx="669.1" cy="232.8" r="1.95"/>
<circle cx="669.0" cy="237.8" r="1.95"/>
<circle cx="672.2" cy="236.7" r="1.95"/>
<circle cx="670.8" cy="227.8" r="1.95"/>
<circle cx="665.3" cy="230.7" r="1.95"/>
<circle cx="671.9" cy="231.5" r="1.95"/>
<circle cx="670.0" cy="226.7" r="1.95"/>
<circle cx="664.3" cy="230.9" r="1.95"/>
<circle cx="671.1" cy="237.9" r="1.95"/>
<circle cx="671.2" cy="231.3" r="1.95"/>
<circle cx="669.4" cy="234.2" r="1.95"/>
<circle cx="668.8" cy="228.5" r="1.95"/>
<circle cx="673.6" cy="229.8" r="1.95"/>
<circle cx="674.6" cy="241.9" r="1.95"/>
<circle cx="663.8" cy="234.1" r="1.95"/>
<circle cx="672.8" cy="242.5" r="1.95"/>
<circle cx="668.6" cy="230.9" r="1.95"/>
<circle cx="666.0" cy="242.1" r="1.95"/>
<circle cx="666.0" cy="236.1" r="1.95"/>
<circle cx="665.2" cy="235.1" r="1.95"/>
<circle cx="674.3" cy="228.7" r="1.95"/>
<circle cx="672.8" cy="234.9" r="1.95"/>
<circle cx="673.5" cy="238.1" r="1.95"/>
<circle cx="666.2" cy="241.3" r="1.95"/>
<circle cx="669.0" cy="226.9" r="1.95"/>
<circle cx="663.6" cy="234.6" r="1.95"/>
<circle cx="668.6" cy="231.5" r="1.95"/>
<circle cx="665.2" cy="232.2" r="1.95"/>
<circle cx="667.1" cy="240.4" r="1.95"/>
<circle cx="663.6" cy="238.9" r="1.95"/>
<circle cx="673.0" cy="228.5" r="1.95"/>
<circle cx="674.0" cy="238.3" r="1.95"/>
<circle cx="673.7" cy="231.3" r="1.95"/>
<circle cx="667.8" cy="233.0" r="1.95"/>
<circle cx="674.8" cy="236.2" r="1.95"/>
<circle cx="667.6" cy="233.6" r="1.95"/>
<circle cx="666.7" cy="227.3" r="1.95"/>
<circle cx="664.7" cy="240.3" r="1.95"/>
<circle cx="666.8" cy="241.9" r="1.95"/>
<circle cx="666.4" cy="230.9" r="1.95"/>
<circle cx="669.3" cy="229.6" r="1.95"/>
<circle cx="667.8" cy="242.3" r="1.95"/>
<circle cx="673.5" cy="239.9" r="1.95"/>
<circle cx="670.7" cy="241.6" r="1.95"/>
<circle cx="674.1" cy="235.6" r="1.95"/>
<circle cx="671.7" cy="227.3" r="1.95"/>
<circle cx="671.8" cy="233.9" r="1.95"/>
<circle cx="672.0" cy="237.1" r="1.95"/>
<circle cx="666.8" cy="227.3" r="1.95"/>
<circle cx="674.0" cy="228.6" r="1.95"/>
<circle cx="668.9" cy="232.2" r="1.95"/>
<circle cx="666.9" cy="238.7" r="1.95"/>
<circle cx="674.5" cy="230.8" r="1.95"/>
<circle cx="670.9" cy="231.5" r="1.95"/>
<circle cx="669.8" cy="233.0" r="1.95"/>
<circle cx="665.5" cy="229.2" r="1.95"/>
<circle cx="665.9" cy="241.4" r="1.95"/>
<circle cx="669.2" cy="230.1" r="1.95"/>
<circle cx="673.8" cy="242.9" r="1.95"/>
<circle cx="668.6" cy="228.8" r="1.95"/>
<circle cx="665.8" cy="228.0" r="1.95"/>
<circle cx="667.4" cy="228.0" r="1.95"/>
<circle cx="666.3" cy="230.8" r="1.95"/>
<circle cx="670.0" cy="241.1" r="1.95"/>
<circle cx="672.0" cy="233.3" r="1.95"/>
<circle cx="668.2" cy="235.1" r="1.95"/>
<circle cx="667.8" cy="232.1" r="1.95"/>
<circle cx="664.3" cy="231.1" r="1.95"/>
<circle cx="674.4" cy="228.6" r="1.95"/>
<circle cx="669.2" cy="236.9" r="1.95"/>
<circle cx="673.3" cy="230.1" r="1.95"/>
<circle cx="666.6" cy="230.6" r="1.95"/>
<circle cx="668.1" cy="233.9" r="1.95"/>
<circle cx="674.3" cy="240.5" r="1.95"/>
<circle cx="673.4" cy="226.9" r="1.95"/>
<circle cx="664.0" cy="238.2" r="1.95"/>
<circle cx="673.6" cy="234.3" r="1.95"/>
<circle cx="670.2" cy="226.5" r="1.95"/>
<circle cx="668.0" cy="241.8" r="1.95"/>
<circle cx="672.8" cy="240.6" r="1.95"/>
<circle cx="674.5" cy="230.6" r="1.95"/>
<circle cx="664.8" cy="229.0" r="1.95"/>
<circle cx="669.5" cy="237.8" r="1.95"/>
<circle cx="674.1" cy="238.4" r="1.95"/>
<circle cx="670.9" cy="239.1" r="1.95"/>
<circle cx="668.7" cy="235.6" r="1.95"/>
<circle cx="664.0" cy="239.4" r="1.95"/>
<circle cx="666.2" cy="241.7" r="1.95"/>
<circle cx="670.8" cy="231.5" r="1.95"/>
<circle cx="665.0" cy="230.7" r="1.95"/>
<circle cx="670.7" cy="238.0" r="1.95"/>
<circle cx="664.9" cy="227.7" r="1.95"/>
<circle cx="669.5" cy="236.1" r="1.95"/>
<circle cx="667.9" cy="230.2" r="1.95"/>
<circle cx="670.3" cy="226.7" r="1.95"/>
<circle cx="667.0" cy="234.1" r="1.95"/>
<circle cx="674.3" cy="237.1" r="1.95"/>
<circle cx="673.5" cy="245.9" r="1.95"/>
<circle cx="666.2" cy="244.5" r="1.95"/>
<circle cx="674.4" cy="247.2" r="1.95"/>
<circle cx="667.0" cy="243.1" r="1.95"/>
<circle cx="669.2" cy="247.0" r="1.95"/>
<circle cx="668.3" cy="244.5" r="1.95"/>
<circle cx="671.1" cy="248.6" r="1.95"/>
<circle cx="666.1" cy="243.2" r="1.95"/>
<circle cx="667.4" cy="245.5" r="1.95"/>
<circle cx="671.2" cy="244.2" r="1.95"/>
<circle cx="672.5" cy="247.4" r="1.95"/>
<circle cx="669.3" cy="244.2" r="1.95"/>
<circle cx="674.5" cy="244.9" r="1.95"/>
<circle cx="672.8" cy="244.4" r="1.95"/>
<circle cx="666.1" cy="247.6" r="1.95"/>
<circle cx="666.9" cy="248.7" r="1.95"/>
<circle cx="669.2" cy="244.1" r="1.95"/>
<circle cx="666.1" cy="245.5" r="1.95"/>
<circle cx="671.1" cy="248.7" r="1.95"/>
<circle cx="665.2" cy="245.4" r="1.95"/>
<circle cx="666.0" cy="248.8" r="1.95"/>
<circle cx="665.2" cy="243.3" r="1.95"/>
<circle cx="664.3" cy="245.4" r="1.95"/>
<circle cx="673.7" cy="248.3" r="1.95"/>
<circle cx="671.8" cy="249.0" r="1.95"/>
<circle cx="674.0" cy="245.0" r="1.95"/>
<circle cx="665.7" cy="248.6" r="1.95"/>
<circle cx="672.0" cy="243.2" r="1.95"/>
<circle cx="671.0" cy="245.3" r="1.95"/>
<circle cx="667.8" cy="245.0" r="1.95"/>
<circle cx="665.5" cy="243.0" r="1.95"/>
<circle cx="666.7" cy="245.1" r="1.95"/>
<circle cx="674.3" cy="243.7" r="1.95"/>
<circle cx="674.4" cy="244.2" r="1.95"/>
<circle cx="667.6" cy="247.9" r="1.95"/>
<circle cx="672.8" cy="245.6" r="1.95"/>
<circle cx="664.2" cy="245.8" r="1.95"/>
<circle cx="667.8" cy="248.5" r="1.95"/>
<circle cx="665.8" cy="245.2" r="1.95"/>
<circle cx="673.6" cy="243.2" r="1.95"/>
<circle cx="668.2" cy="247.9" r="1.95"/>
<circle cx="672.2" cy="243.2" r="1.95"/>
<circle cx="664.0" cy="243.4" r="1.95"/>
<circle cx="673.9" cy="244.5" r="1.95"/>
<circle cx="672.0" cy="248.4" r="1.95"/>
<circle cx="667.4" cy="244.6" r="1.95"/>
<circle cx="674.3" cy="246.7" r="1.95"/>
<circle cx="666.5" cy="247.3" r="1.95"/>
<circle cx="667.1" cy="244.7" r="1.95"/>
<circle cx="663.6" cy="247.5" r="1.95"/>
<circle cx="673.9" cy="246.8" r="1.95"/>
<circle cx="674.2" cy="243.1" r="1.95"/>
<circle cx="666.2" cy="245.9" r="1.95"/>
<circle cx="674.3" cy="248.7" r="1.95"/>
<circle cx="667.9" cy="244.5" r="1.95"/>
<circle cx="668.4" cy="246.0" r="1.95"/>
<circle cx="674.0" cy="244.1" r="1.95"/>
<circle cx="672.6" cy="247.4" r="1.95"/>
<circle cx="672.8" cy="247.6" r="1.95"/>
<circle cx="670.4" cy="245.0" r="1.95"/>
<circle cx="667.2" cy="245.2" r="1.95"/>
<circle cx="672.4" cy="243.5" r="1.95"/>
<circle cx="665.8" cy="247.5" r="1.95"/>
<circle cx="666.4" cy="243.4" r="1.95"/>
<circle cx="664.0" cy="246.3" r="1.95"/>
<circle cx="667.2" cy="248.9" r="1.95"/>
<circle cx="673.5" cy="248.9" r="1.95"/>
<circle cx="666.6" cy="243.5" r="1.95"/>
<circle cx="664.7" cy="246.0" r="1.95"/>
<circle cx="671.5" cy="245.7" r="1.95"/>
<circle cx="666.4" cy="250.7" r="1.95"/>
<circle cx="670.5" cy="251.7" r="1.95"/>
<circle cx="671.8" cy="252.4" r="1.95"/>
<circle cx="670.9" cy="249.5" r="1.95"/>
<circle cx="672.7" cy="250.2" r="1.95"/>
<circle cx="669.9" cy="250.5" r="1.95"/>
<circle cx="671.7" cy="249.8" r="1.95"/>
<circle cx="666.6" cy="250.0" r="1.95"/>
<circle cx="665.6" cy="252.5" r="1.95"/>
<circle cx="670.0" cy="250.3" r="1.95"/>
<circle cx="668.1" cy="253.0" r="1.95"/>
<circle cx="669.3" cy="249.9" r="1.95"/>
<circle cx="672.4" cy="251.6" r="1.95"/>
<circle cx="674.3" cy="249.4" r="1.95"/>
<circle cx="668.9" cy="252.3" r="1.95"/>
<circle cx="672.7" cy="252.7" r="1.95"/>
<circle cx="664.4" cy="250.2" r="1.95"/>
<circle cx="665.2" cy="249.8" r="1.95"/>
<circle cx="674.1" cy="251.3" r="1.95"/>
<circle cx="673.7" cy="250.5" r="1.95"/>
<circle cx="673.0" cy="250.8" r="1.95"/>
<circle cx="666.7" cy="252.1" r="1.95"/>
<circle cx="673.8" cy="249.4" r="1.95"/>
<circle cx="670.2" cy="251.5" r="1.95"/>
<circle cx="666.3" cy="250.5" r="1.95"/>
<circle cx="665.5" cy="249.8" r="1.95"/>
<circle cx="666.7" cy="251.4" r="1.95"/>
<circle cx="670.8" cy="249.8" r="1.95"/>
<circle cx="664.1" cy="250.3" r="1.95"/>
<circle cx="671.1" cy="249.7" r="1.95"/>
<circle cx="667.2" cy="249.8" r="1.95"/>
<circle cx="672.3" cy="251.2" r="1.95"/>
<circle cx="664.7" cy="249.4" r="1.95"/>
<circle cx="668.1" cy="251.2" r="1.95"/>
<circle cx="670.6" cy="249.4" r="1.95"/>
<circle cx="665.7" cy="251.8" r="1.95"/>
<circle cx="668.3" cy="250.1" r="1.95"/>
<circle cx="667.2" cy="252.8" r="1.95"/>
<circle cx="667.2" cy="251.3" r="1.95"/>
<circle cx="667.7" cy="250.7" r="1.95"/>
</g>
<line x1="489.5" y1="225.4" x2="688" y2="225.4" stroke="#555" stroke-width="0.8" stroke-dasharray="2.6 7.4" stroke-dashoffset="-0.4"/>
<rect x="595.4" y="188.4" width="87.2" height="37.2" fill="none" stroke="#62c38e" stroke-width="0.7" stroke-dasharray="3.6 2.6"/>
<text x="644.30" y="196.30" font-size="7.8" fill="#2fae64" text-anchor="middle" textLength="21.40" lengthAdjust="spacingAndGlyphs">28.0%</text>
<path d="M608.4,185.6 V183.4 H639.4 V185.6" fill="none" stroke="#333" stroke-width="0.6"/>
<text x="611.6" y="180.0" font-size="7.6" fill="#333" textLength="32.4" lengthAdjust="spacingAndGlyphs"><tspan font-style="italic">P</tspan> = 0.009</text>
<text x="503.45" y="292.9" font-size="6.6" fill="#333" text-anchor="middle" textLength="21.3" lengthAdjust="spacingAndGlyphs"><tspan font-style="italic">N</tspan> = 46</text>
<text x="525.6" y="292.9" font-size="6.6" fill="#333" text-anchor="middle" textLength="19.3" lengthAdjust="spacingAndGlyphs"><tspan font-style="italic">N</tspan> = 12</text>
<text x="550.1" y="292.9" font-size="6.6" fill="#333" text-anchor="middle" textLength="21.0" lengthAdjust="spacingAndGlyphs"><tspan font-style="italic">N</tspan> = 25</text>
<text x="573.4" y="292.9" font-size="6.6" fill="#333" text-anchor="middle" textLength="21.0" lengthAdjust="spacingAndGlyphs"><tspan font-style="italic">N</tspan> = 33</text>
<text x="608.3" y="292.9" font-size="6.6" fill="#333" text-anchor="middle" textLength="20.5" lengthAdjust="spacingAndGlyphs"><tspan font-style="italic">N</tspan> = 17</text>
<text x="638.9" y="292.9" font-size="6.6" fill="#333" text-anchor="middle" textLength="20.5" lengthAdjust="spacingAndGlyphs"><tspan font-style="italic">N</tspan> = 10</text>
<text x="669.4" y="292.9" font-size="6.6" fill="#333" text-anchor="middle" textLength="23.5" lengthAdjust="spacingAndGlyphs"><tspan font-style="italic">N</tspan> = 545</text>
<text x="508.62" y="302.29" font-size="8.4" fill="#333" text-anchor="end" textLength="49.70" lengthAdjust="spacingAndGlyphs" transform="rotate(-45 508.62 302.29)">Parent–child</text>
<text x="527.57" y="302.43" font-size="8.4" fill="#333" text-anchor="end" textLength="27.40" lengthAdjust="spacingAndGlyphs" transform="rotate(-45 527.57 302.43)">Sibling</text>
<text x="555.86" y="303.28" font-size="8.4" fill="#333" text-anchor="end" textLength="66.70" lengthAdjust="spacingAndGlyphs" transform="rotate(-45 555.86 303.28)">Consanguineous</text>
<text x="583.29" y="302.71" font-size="8.4" fill="#333" text-anchor="end" textLength="84.00" lengthAdjust="spacingAndGlyphs" transform="rotate(-45 583.29 302.71)">Non-consanguineous</text>
<text x="616.38" y="302.15" font-size="8.4" fill="#333" text-anchor="end" textLength="52.60" lengthAdjust="spacingAndGlyphs" transform="rotate(-45 616.38 302.15)">Same variant</text>
<text x="646.72" y="302.64" font-size="8.4" fill="#333" text-anchor="end" textLength="64.10" lengthAdjust="spacingAndGlyphs" transform="rotate(-45 646.72 302.64)">Different variant</text>
<text x="677.27" y="302.92" font-size="8.4" fill="#333" text-anchor="end" textLength="67.00" lengthAdjust="spacingAndGlyphs" transform="rotate(-45 677.27 302.92)">Low-risk by WGS</text>
<path d="M574.1,345.3 V352.4 H621.9 V345.3" fill="none" stroke="#7d9bd6" stroke-width="0.8"/>
<line x1="598.3" y1="352.4" x2="598.3" y2="360.5" stroke="#7d9bd6" stroke-width="0.8"/>
<text x="598.10" y="373.30" font-size="8.4" fill="#333" text-anchor="middle" textLength="59.20" lengthAdjust="spacingAndGlyphs">At-risk by WGS</text>
</svg>
</body></html>
